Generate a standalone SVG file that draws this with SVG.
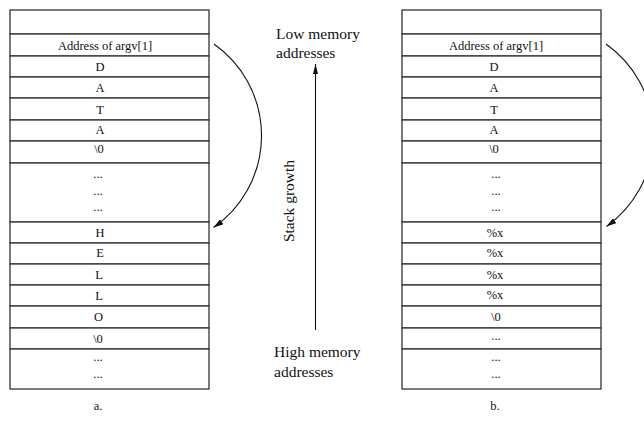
<svg xmlns="http://www.w3.org/2000/svg" width="644" height="423" viewBox="0 0 644 423">
<defs>
<style>
.cell{fill:#fff;stroke:#333;stroke-width:1.3}
.t{font-family:"Liberation Serif","Times New Roman",serif;font-size:12.5px;fill:#111;text-anchor:middle}
.m{font-family:"Liberation Serif","Times New Roman",serif;font-size:15.5px;fill:#111}
.c{fill:none;stroke:#111;stroke-width:1.1}
</style>
<marker id="ah" viewBox="0 0 10 6" refX="10" refY="3" markerWidth="10" markerHeight="6" markerUnits="userSpaceOnUse" orient="auto"><path d="M0,0 L10,3 L0,6 z" fill="#111"/></marker>
<marker id="ah2" viewBox="0 0 10 5" refX="10" refY="2.5" markerWidth="10" markerHeight="5" markerUnits="userSpaceOnUse" orient="auto"><path d="M0,0 L10,2.5 L0,5 z" fill="#111"/></marker>
</defs>
<rect width="644" height="423" fill="#fff"/>

<g id="table-a">
<g id="a-r0"><rect class="cell" x="10" y="10" width="199" height="24"/></g>
<g id="a-r1"><rect class="cell" x="10" y="34" width="199" height="22"/><text class="t" x="105" y="49.5">Address of argv[1]</text></g>
<g id="a-r2"><rect class="cell" x="10" y="56" width="199" height="21"/><text class="t" x="100" y="70.5">D</text></g>
<g id="a-r3"><rect class="cell" x="10" y="77" width="199" height="21"/><text class="t" x="100" y="91.5">A</text></g>
<g id="a-r4"><rect class="cell" x="10" y="98" width="199" height="22"/><text class="t" x="100" y="113.5">T</text></g>
<g id="a-r5"><rect class="cell" x="10" y="120" width="199" height="21"/><text class="t" x="100" y="134">A</text></g>
<g id="a-r6"><rect class="cell" x="10" y="141" width="199" height="22"/><text class="t" x="99" y="153">\0</text></g>
<g id="a-r7"><rect class="cell" x="10" y="163" width="199" height="59"/><text class="t" x="98" y="178">...</text><text class="t" x="98" y="194.5">...</text><text class="t" x="98" y="211">...</text></g>
<g id="a-r8"><rect class="cell" x="10" y="222" width="199" height="21"/><text class="t" x="100" y="237">H</text></g>
<g id="a-r9"><rect class="cell" x="10" y="243" width="199" height="21"/><text class="t" x="100" y="256.5">E</text></g>
<g id="a-r10"><rect class="cell" x="10" y="264" width="199" height="21"/><text class="t" x="99" y="279">L</text></g>
<g id="a-r11"><rect class="cell" x="10" y="285" width="199" height="21"/><text class="t" x="99" y="300">L</text></g>
<g id="a-r12"><rect class="cell" x="10" y="306" width="199" height="22"/><text class="t" x="98.5" y="320.5">O</text></g>
<g id="a-r13"><rect class="cell" x="10" y="328" width="199" height="21"/><text class="t" x="98" y="343">\0</text></g>
<g id="a-r14"><rect class="cell" x="10" y="349" width="199" height="40"/><text class="t" x="98" y="361">...</text><text class="t" x="98" y="378">...</text></g>
</g>
<g id="label-a"><text class="t" x="98" y="410">a.</text></g>

<g id="table-b">
<g id="b-r0"><rect class="cell" x="402" y="10" width="199" height="24"/></g>
<g id="b-r1"><rect class="cell" x="402" y="34" width="199" height="22"/><text class="t" x="496" y="49.5">Address of argv[1]</text></g>
<g id="b-r2"><rect class="cell" x="402" y="56" width="199" height="21"/><text class="t" x="494" y="70.5">D</text></g>
<g id="b-r3"><rect class="cell" x="402" y="77" width="199" height="21"/><text class="t" x="494" y="91.5">A</text></g>
<g id="b-r4"><rect class="cell" x="402" y="98" width="199" height="22"/><text class="t" x="494" y="113.5">T</text></g>
<g id="b-r5"><rect class="cell" x="402" y="120" width="199" height="21"/><text class="t" x="494" y="134">A</text></g>
<g id="b-r6"><rect class="cell" x="402" y="141" width="199" height="22"/><text class="t" x="494" y="153">\0</text></g>
<g id="b-r7"><rect class="cell" x="402" y="163" width="199" height="59"/><text class="t" x="496" y="178">...</text><text class="t" x="496" y="194.5">...</text><text class="t" x="496" y="211">...</text></g>
<g id="b-r8"><rect class="cell" x="402" y="222" width="199" height="21"/><text class="t" x="495" y="237">%x</text></g>
<g id="b-r9"><rect class="cell" x="402" y="243" width="199" height="21"/><text class="t" x="495" y="256.5">%x</text></g>
<g id="b-r10"><rect class="cell" x="402" y="264" width="199" height="21"/><text class="t" x="495" y="279">%x</text></g>
<g id="b-r11"><rect class="cell" x="402" y="285" width="199" height="21"/><text class="t" x="495" y="298.5">%x</text></g>
<g id="b-r12"><rect class="cell" x="402" y="306" width="199" height="22"/><text class="t" x="496" y="320.5">\0</text></g>
<g id="b-r13"><rect class="cell" x="402" y="328" width="199" height="21"/><text class="t" x="496" y="339.5">...</text></g>
<g id="b-r14"><rect class="cell" x="402" y="349" width="199" height="40"/><text class="t" x="496" y="361">...</text><text class="t" x="496" y="378">...</text></g>
</g>
<g id="label-b"><text class="t" x="495" y="410">b.</text></g>

<g id="low-label"><text class="m" x="276" y="39">Low memory</text><text class="m" x="276" y="58">addresses</text></g>
<g id="high-label"><text class="m" x="274" y="357">High memory</text><text class="m" x="274" y="377">addresses</text></g>
<g id="stack-label"><text class="m" text-anchor="middle" transform="translate(294,201) rotate(-90)">Stack growth</text></g>

<g id="connectors">
<path class="c" d="M214,44 A112,112 0 0 1 213.5,227.5" marker-end="url(#ah)"/>
<path class="c" d="M606,44 A112,112 0 0 1 606.5,226.5" marker-end="url(#ah)"/>
<path class="c" d="M315.5,330 L315.5,64" marker-end="url(#ah2)"/>
</g>
</svg>
